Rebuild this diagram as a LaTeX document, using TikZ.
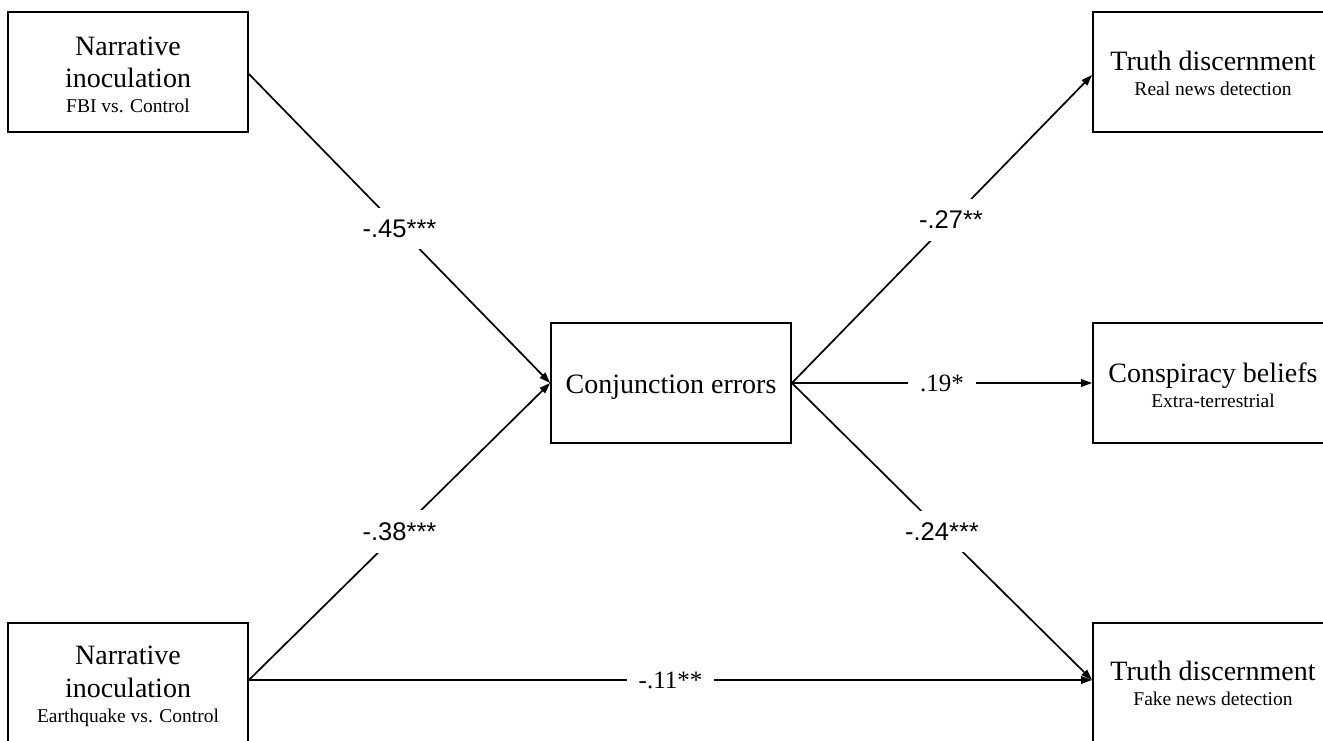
\documentclass[tikz,border=0pt]{standalone}
\usepackage{fontspec}
\setmainfont{Liberation Serif}
\newfontfamily\coefsansfont{Liberation Sans}
\usetikzlibrary{arrows.meta,calc}
\begin{document}
\begin{tikzpicture}[x=1pt,y=-1pt,
  box/.style={draw, line width=1.8pt, minimum width=240pt, minimum height=120pt, inner sep=0pt},
  bigtxt/.style={font=\fontsize{28}{32}\selectfont, inner sep=0pt, anchor=base},
  smalltxt/.style={font=\fontsize{19.5}{23}\selectfont, inner sep=0pt, anchor=base},
  link/.style={line width=1.7pt, -{Triangle[length=11pt,width=7.5pt]}},
  coef/.style={fill=white, inner sep=12pt, font=\fontsize{25}{28}\selectfont},
  coefsans/.style={fill=white, inner xsep=11pt, inner ysep=12pt, font=\coefsansfont\fontsize{25.5}{28}\selectfont}]

\useasboundingbox (0,0) rectangle (1323,740);
\clip (0,0) rectangle (1323,740);

% boxes
\node[box] (tl) at (128,72) {};
\node[box] (bl) at (128,683) {};
\node[box] (ce) at (671,383) {};
\node[box] (tr) at (1213,72) {};
\node[box] (mr) at (1213,383) {};
\node[box] (br) at (1213,683) {};

% box texts
\node[bigtxt] (tl1) at ($(tl.center)+(0,-17)$) {Narrative};
\node[bigtxt] (tl2) at ($(tl.center)+(0,15)$) {inoculation};
\node[smalltxt] (tl3) at ($(tl.center)+(0,40)$) {FBI vs. Control};

\node[bigtxt] (bl1) at ($(bl.center)+(0,-19)$) {Narrative};
\node[bigtxt] (bl2) at ($(bl.center)+(0,14)$) {inoculation};
\node[smalltxt] (bl3) at ($(bl.center)+(0,39)$) {Earthquake vs. Control};

\node[bigtxt] (ce1) at ($(ce.center)+(0,10)$) {Conjunction errors};

\node[bigtxt] (tr1) at ($(tr.center)+(0,-2)$) {Truth discernment};
\node[smalltxt] (tr2) at ($(tr.center)+(0,23)$) {Real news detection};

\node[bigtxt] (mr1) at ($(mr.center)+(0,-1)$) {Conspiracy beliefs};
\node[smalltxt] (mr2) at ($(mr.center)+(0,24)$) {Extra-terrestrial};

\node[bigtxt] (br1) at ($(br.center)+(0,-3)$) {Truth discernment};
\node[smalltxt] (br2) at ($(br.center)+(0,22)$) {Fake news detection};

% paths with coefficients
\draw[link] ([yshift=-2pt]tl.east) -- node[coefsans] (c1) {-.45***} (ce.west);
\draw[link] ([yshift=3pt]bl.east) -- node[coefsans] (c2) {-.38***} (ce.west);
\draw[link] (ce.east) -- node[coefsans, pos=0.53] (c3) {-.27**} ([yshift=-3pt]tr.west);
\draw[link] (ce.east) -- node[coef] (c4) {.19*} (mr.west);
\draw[link] (ce.east) -- node[coefsans] (c5) {-.24***} ([yshift=3pt]br.west);
\draw[link] ([yshift=3pt]bl.east) -- node[coef] (c6) {-.11**} ([yshift=3pt]br.west);
\end{tikzpicture}
\end{document}
